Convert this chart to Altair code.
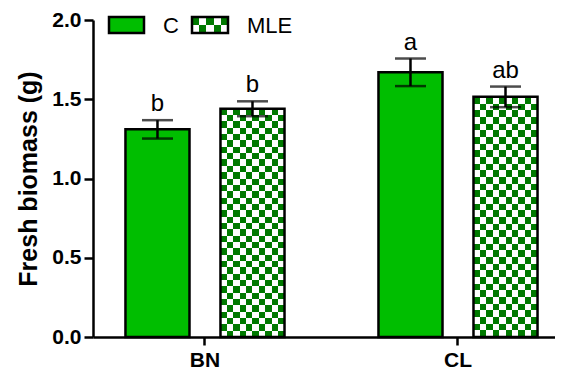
import base64
import altair as alt
import pandas as pd

# ---- data ----
categories = ["BN", "CL"]
series = ["C", "MLE"]
sites = ["BN", "BN", "CL", "CL"]
treatments = ["C", "MLE", "C", "MLE"]
means = [1.31, 1.44, 1.67, 1.515]
errors = [0.058, 0.047, 0.087, 0.065]
letters = ["b", "b", "a", "ab"]
y_ticks = [0.0, 0.5, 1.0, 1.5, 2.0]

GREEN = "#00BE00"
DARK = "#007A00"
FONT = "Liberation Sans"


def checker(cols, rows):
    cells = "".join(
        f'<rect x="{c}" y="{r}" width="1" height="1"/>'
        for r in range(rows) for c in range(cols) if (r + c) % 2 == 0
    )
    svg = (
        f'<svg xmlns="http://www.w3.org/2000/svg" width="{cols * 10}" height="{rows * 10}" '
        f'viewBox="0 0 {cols} {rows}" preserveAspectRatio="none" shape-rendering="crispEdges">'
        f'<rect width="{cols}" height="{rows}" fill="white"/><g fill="{DARK}">{cells}</g></svg>'
    )
    return "data:image/svg+xml;base64," + base64.b64encode(svg.encode()).decode()


BAR_TEX = checker(10, 36)
LEG_TEX = checker(5, 2)

df = pd.DataFrame({
    "site": sites,
    "treat": treatments,
    "mean": means,
    "err": errors,
    "letter": letters,
})
df["lo"] = df["mean"] - df["err"]
df["hi"] = df["mean"] + df["err"]
df["url"] = [BAR_TEX if t == "MLE" else "" for t in treatments]

x_enc = alt.X(
    "site:N",
    scale=alt.Scale(domain=categories, paddingInner=0.3, paddingOuter=0.063, align=0.735),
    axis=alt.Axis(title=None, labelAngle=0, labelFontWeight="bold", labelFontSize=21,
                  tickSize=8, labelPadding=4),
)
xo_enc = alt.XOffset("treat:N", scale=alt.Scale(domain=series, paddingInner=0.326, paddingOuter=0.095))
y_scale = alt.Scale(domain=[0, 2], nice=False, zero=True)
y_axis = alt.Axis(values=y_ticks, format=".1f", title="Fresh biomass (g)", grid=False,
                  labelFontWeight="bold", labelFontSize=21, tickSize=9, labelPadding=3,
                  titleFontSize=25, titleFontWeight="bold", titlePadding=10)

base = alt.Chart(df)

bars = base.mark_bar(strokeWidth=0).encode(
    x=x_enc, xOffset=xo_enc,
    y=alt.Y("mean:Q", scale=y_scale, axis=y_axis),
    fill=alt.Fill("treat:N", scale=alt.Scale(domain=series, range=[GREEN, "white"]), legend=None),
)

texture = base.transform_filter(alt.datum.treat == "MLE").mark_image(aspect=False).encode(
    x=x_enc, xOffset=xo_enc,
    y=alt.Y("mean:Q", scale=y_scale),
    y2=alt.Y2(datum=0),
    url="url:N",
)

outline = base.mark_bar(fillOpacity=0, stroke="black", strokeWidth=2.5).encode(
    x=x_enc, xOffset=xo_enc,
    y=alt.Y("mean:Q", scale=y_scale),
)

err_rule = base.mark_rule(color="black", strokeWidth=2.5).encode(
    x=x_enc, xOffset=xo_enc,
    y=alt.Y("lo:Q", scale=y_scale), y2="hi:Q",
)
cap_hi = base.mark_tick(color="black", thickness=2.5, size=31).encode(
    x=x_enc, xOffset=xo_enc, y=alt.Y("hi:Q", scale=y_scale),
)
cap_lo = base.mark_tick(color="black", thickness=2.5, size=31).encode(
    x=x_enc, xOffset=xo_enc, y=alt.Y("lo:Q", scale=y_scale),
)
labels = base.mark_text(font=FONT, fontSize=24, baseline="alphabetic", dy=-9, color="black").encode(
    x=x_enc, xOffset=xo_enc, y=alt.Y("hi:Q", scale=y_scale), text="letter:N",
)

# ---- manual legend (pattern swatch cannot be drawn by the native legend) ----
leg = alt.Chart(pd.DataFrame({"s": series}))
leg_c = leg.transform_filter(alt.datum.s == series[0]).mark_rect(
    fill=GREEN, stroke="black", strokeWidth=2.5).encode(
    x=alt.value(16), x2=alt.value(51), y=alt.value(-3), y2=alt.value(13))
leg_m_img = leg.transform_filter(alt.datum.s == series[1]).mark_image(
    aspect=False, url=LEG_TEX).encode(
    x=alt.value(99), x2=alt.value(135), y=alt.value(-3), y2=alt.value(13))
leg_m = leg.transform_filter(alt.datum.s == series[1]).mark_rect(
    fillOpacity=0, stroke="black", strokeWidth=2.5).encode(
    x=alt.value(99), x2=alt.value(135), y=alt.value(-3), y2=alt.value(13))
leg_t1 = leg.transform_filter(alt.datum.s == series[0]).mark_text(
    font=FONT, fontSize=22, align="left", baseline="middle", color="black").encode(
    x=alt.value(70), y=alt.value(6), text="s:N")
leg_t2 = leg.transform_filter(alt.datum.s == series[1]).mark_text(
    font=FONT, fontSize=22, align="left", baseline="middle", color="black").encode(
    x=alt.value(154), y=alt.value(6), text="s:N")

chart = alt.layer(
    bars, texture, outline, err_rule, cap_hi, cap_lo, labels,
    leg_c, leg_m_img, leg_m, leg_t1, leg_t2,
).properties(
    width=462, height=317,
    autosize=alt.AutoSizeParams(type="none"),
    padding={"left": 85, "top": 12, "right": 0, "bottom": 33},
).configure_view(stroke=None).configure_axis(
    domainColor="black", domainWidth=2.5, tickColor="black", tickWidth=2.5,
    labelColor="black", titleColor="black", labelFont=FONT, titleFont=FONT,
)

chart.save("out.html", embed_options={"renderer": "svg", "actions": False})
